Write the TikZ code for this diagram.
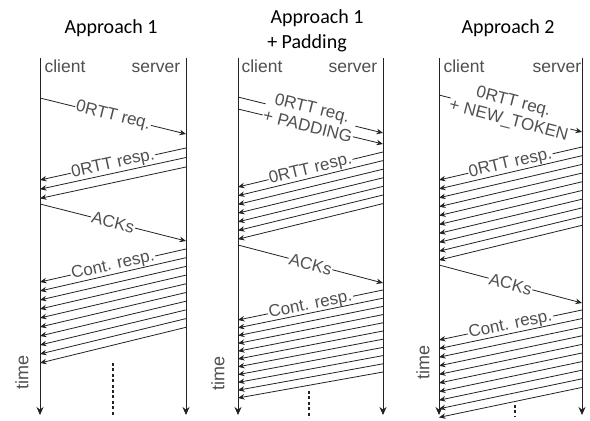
\documentclass[tikz,border=0pt]{standalone}
\usepackage{fontspec}
\setmainfont{Liberation Sans}
\newfontfamily\titlefont{Carlito}
\usetikzlibrary{arrows.meta}
\definecolor{linec}{HTML}{222222}
\definecolor{labelc}{HTML}{505050}
\begin{document}
\begin{tikzpicture}[x=1pt,y=-1pt,
  life/.style={draw=linec, line width=0.9pt, -{Stealth[length=8pt,width=7pt]}},
  msg/.style={draw=linec, line width=0.8pt, -{Stealth[length=6.5pt,width=5.5pt]}},
  lbl/.style={font=\fontsize{17}{19}\selectfont, text=labelc, fill=white, inner sep=0.8pt, sloped, midway, align=center},
  role/.style={font=\fontsize{17.5}{17.5}\selectfont, text=labelc, anchor=base, inner sep=0pt},
  ttl/.style={font=\titlefont\fontsize{20}{20}\selectfont, text=black, anchor=base, inner sep=0pt},
  timel/.style={font=\fontsize{18}{18}\selectfont, text=labelc, rotate=90, inner sep=0pt},
  dotsy/.style={draw=linec, line width=2.8pt, dash pattern=on 3pt off 2.4pt}]
\useasboundingbox (0,0) rectangle (590,421);
\fill[white] (0,0) rectangle (590,421);

% ---------------- titles
\node[ttl] (t1) at (111,33) {Approach 1};
\node[ttl] (t2a) at (317,23) {Approach 1};
\node[ttl] (t2b) at (307,48) {+ Padding};
\node[ttl] (t3) at (508,33) {Approach 2};

% ================= Panel 1
\coordinate (c1t) at (40,58); \coordinate (c1b) at (40,415);
\coordinate (s1t) at (186,58); \coordinate (s1b) at (186,415);
\draw[life] (c1t) -- (c1b);
\draw[life] (s1t) -- (s1b);
\node[role] (cl1) at (65,72) {client};
\node[role] (sv1) at (156,72) {server};
\coordinate (c1q) at (40,98); \coordinate (s1q) at (186,134);
\draw[msg] (c1q) -- node[lbl] {0RTT req.} (s1q);
\coordinate (s1r0) at (186,148); \coordinate (c1r0) at (40,180);
\draw[msg] (s1r0) -- node[lbl] {0RTT resp.} (c1r0);
\foreach \i in {1,2} {
  \coordinate (s1r\i) at (186,{148+9.5*\i});
  \coordinate (c1r\i) at (40,{180+9.2*\i});
  \draw[msg] (s1r\i) -- (c1r\i);
}
\coordinate (c1a) at (40,204); \coordinate (s1a) at (186,241);
\draw[msg] (c1a) -- node[lbl] {ACKs} (s1a);
\coordinate (s1c0) at (186,249); \coordinate (c1c0) at (40,282);
\draw[msg] (s1c0) -- node[lbl] {Cont. resp.} (c1c0);
\foreach \i in {1,...,9} {
  \coordinate (s1c\i) at (186,{249+8.7*\i});
  \coordinate (c1c\i) at (40,{282+9*\i});
  \draw[msg] (s1c\i) -- (c1c\i);
}
\coordinate (d1a) at (113,363); \coordinate (d1b) at (113,416);
\draw[dotsy] (d1a) -- (d1b);
\node[timel] (tm1) at (22,372) {time};

% ================= Panel 2
\coordinate (c2t) at (238,58); \coordinate (c2b) at (238,415);
\coordinate (s2t) at (383,58); \coordinate (s2b) at (383,415);
\draw[life] (c2t) -- (c2b);
\draw[life] (s2t) -- (s2b);
\node[role] (cl2) at (262,72) {client};
\node[role] (sv2) at (353,72) {server};
\coordinate (c2p) at (238,109); \coordinate (s2p) at (383,144);
\draw[msg] (c2p) -- (s2p);
\coordinate (c2q) at (238,97); \coordinate (s2q) at (383,133);
\draw[msg] (c2q) -- node[lbl, yshift=-2pt] {0RTT req.\\+ PADDING} (s2q);
\coordinate (s2r0) at (383,152); \coordinate (c2r0) at (238,187);
\draw[msg] (s2r0) -- node[lbl] {0RTT resp.} (c2r0);
\foreach \i in {1,...,6} {
  \coordinate (s2r\i) at (383,{152+8.6*\i});
  \coordinate (c2r\i) at (238,{187+8.7*\i});
  \draw[msg] (s2r\i) -- (c2r\i);
}
\coordinate (c2a) at (238,245); \coordinate (s2a) at (383,283);
\draw[msg] (c2a) -- node[lbl] {ACKs} (s2a);
\coordinate (s2c0) at (383,290); \coordinate (c2c0) at (238,320);
\draw[msg] (s2c0) -- node[lbl] {Cont. resp.} (c2c0);
\foreach \i in {1,...,10} {
  \coordinate (s2c\i) at (383,{290+8.2*\i});
  \coordinate (c2c\i) at (238,{320+7.8*\i});
  \draw[msg] (s2c\i) -- (c2c\i);
}
\coordinate (d2a) at (309,391); \coordinate (d2b) at (309,418);
\draw[dotsy] (d2a) -- (d2b);
\node[timel] (tm2) at (218,373) {time};

% ================= Panel 3
\coordinate (c3t) at (439,58); \coordinate (c3b) at (439,415);
\coordinate (s3t) at (582,58); \coordinate (s3b) at (582,415);
\draw[life] (c3t) -- (c3b);
\draw[life] (s3t) -- (s3b);
\node[role] (cl3) at (464,72) {client};
\node[role] (sv3) at (557,72) {server};
\coordinate (c3q) at (439,95); \coordinate (s3q) at (582,132);
\draw[msg] (c3q) -- node[lbl, yshift=2pt] {0RTT req.\\+ NEW\_TOKEN} (s3q);
\coordinate (s3r0) at (582,147); \coordinate (c3r0) at (439,180);
\draw[msg] (s3r0) -- node[lbl] {0RTT resp.} (c3r0);
\foreach \i in {1,...,9} {
  \coordinate (s3r\i) at (582,{147+8.7*\i});
  \coordinate (c3r\i) at (439,{180+8.9*\i});
  \draw[msg] (s3r\i) -- (c3r\i);
}
\coordinate (c3a) at (439,265); \coordinate (s3a) at (582,303);
\draw[msg] (c3a) -- node[lbl] {ACKs} (s3a);
\coordinate (s3c0) at (582,310); \coordinate (c3c0) at (439,340);
\draw[msg] (s3c0) -- node[lbl] {Cont. resp.} (c3c0);
\foreach \i in {1,...,9} {
  \coordinate (s3c\i) at (582,{310+8.6*\i});
  \coordinate (c3c\i) at (439,{340+8.6*\i});
  \draw[msg] (s3c\i) -- (c3c\i);
}
\coordinate (d3a) at (515,405); \coordinate (d3b) at (515,417);
\draw[dotsy] (d3a) -- (d3b);
\node[timel] (tm3) at (423,362) {time};
\end{tikzpicture}
\end{document}
